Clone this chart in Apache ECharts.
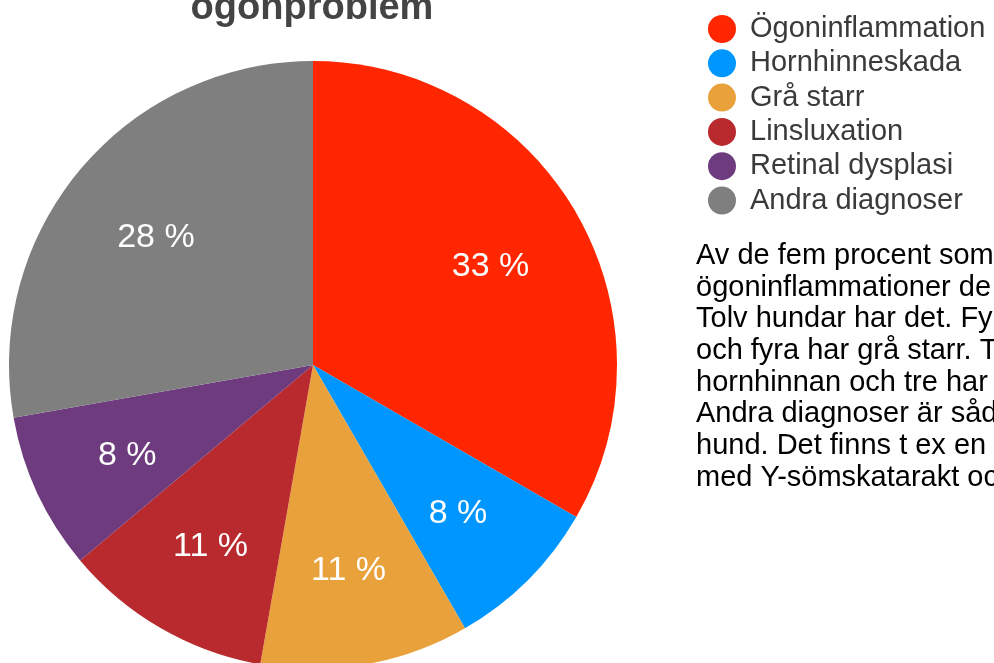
<!DOCTYPE html>
<html>
<head>
<meta charset="utf-8">
<script src="https://cdn.jsdelivr.net/npm/echarts@6/dist/echarts.min.js"></script>
<style>
  html, body { margin: 0; padding: 0; background: #fff; }
  #chart { width: 994px; height: 663px; }
</style>
</head>
<body>
<div id="chart"></div>
<script>
// data
const diagnoser = ['Ögoninflammation', 'Hornhinneskada', 'Grå starr', 'Linsluxation', 'Retinal dysplasi', 'Andra diagnoser']
const antalHundar = [12, 3, 4, 4, 3, 10]
const farger = ['#ff2600', '#0096ff', '#e9a23b', '#b92a2f', '#6e3b7e', '#7f7f7f']
const textRader = [
  'Av de fem procent som',
  'ögoninflammationer de',
  'Tolv hundar har det. Fyra',
  'och fyra har grå starr. Tre',
  'hornhinnan och tre har',
  'Andra diagnoser är sådana',
  'hund. Det finns t ex en',
  'med Y-sömskatarakt och'
]

const pieData = diagnoser.map((name, i) => ({
  name: name,
  value: antalHundar[i],
  itemStyle: { color: farger[i] }
}))

const chart = echarts.init(document.getElementById('chart'))

chart.setOption({
  animation: false,
  legend: {
    orient: 'vertical',
    left: 703,
    top: 9.5,
    icon: 'circle',
    itemWidth: 28,
    itemHeight: 28,
    itemGap: 5.3,
    selectedMode: false,
    data: diagnoser,
    textStyle: {
      fontFamily: 'Liberation Sans',
      fontSize: 29,
      lineHeight: 28,
      color: '#3a3a3a',
      padding: [0, 0, 0, 9]
    }
  },
  graphic: [
    {
      type: 'text',
      x: 312,
      y: 9,
      style: {
        text: 'ögonproblem',
        align: 'center',
        verticalAlign: 'middle',
        fontFamily: 'Liberation Sans',
        fontWeight: 'bold',
        fontSize: 38,
        fill: '#444'
      }
    },
    {
      type: 'text',
      x: 696,
      y: 240,
      style: {
        text: textRader.join('\n'),
        fontFamily: 'Liberation Sans',
        fontSize: 29,
        lineHeight: 31.7,
        fill: '#000'
      }
    }
  ],
  series: [
    {
      // hela cirkeln
      type: 'pie',
      center: [313, 365],
      radius: [0, 304],
      startAngle: 90,
      clockwise: true,
      silent: true,
      label: { show: false },
      labelLine: { show: false },
      data: pieData
    },
    {
      // bara etiketterna, längre ut från mitten
      type: 'pie',
      center: [313, 365],
      radius: [100, 304],
      startAngle: 90,
      clockwise: true,
      silent: true,
      itemStyle: { color: 'rgba(0,0,0,0)' },
      label: {
        show: true,
        position: 'inside',
        color: '#fff',
        fontFamily: 'Liberation Sans',
        fontSize: 34,
        offset: [0, 4],
        formatter: p => Math.round(p.percent) + ' %'
      },
      labelLine: { show: false },
      data: antalHundar.map((v, i) => ({ name: diagnoser[i], value: v }))
    }
  ]
})
</script>
</body>
</html>
